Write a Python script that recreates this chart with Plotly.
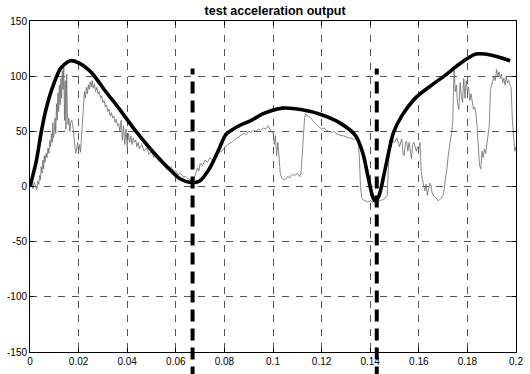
import plotly.graph_objects as go

# ---- data ----
title_text = "test acceleration output"

# measured (thin, noisy) signal
meas_x = [0.0000, 0.0008, 0.0012, 0.0018, 0.0022, 0.0028, 0.0032, 0.0036, 0.0040, 0.0043, 0.0046, 0.0050,
          0.0053, 0.0056, 0.0059, 0.0062, 0.0066, 0.0070, 0.0074, 0.0078, 0.0082, 0.0085, 0.0088, 0.0091,
          0.0094, 0.0097, 0.0100, 0.0103, 0.0106, 0.0109, 0.0112, 0.0115, 0.0118, 0.0121, 0.0124, 0.0127,
          0.0130, 0.0133, 0.0136, 0.0139, 0.0142, 0.0145, 0.0148, 0.0151, 0.0154, 0.0157, 0.0160, 0.0164,
          0.0168, 0.0172, 0.0176, 0.0180, 0.0184, 0.0188, 0.0192, 0.0196, 0.0200, 0.0204, 0.0208, 0.0212,
          0.0216, 0.0220, 0.0224, 0.0228, 0.0232, 0.0236, 0.0240, 0.0244, 0.0248, 0.0252, 0.0256, 0.0260,
          0.0265, 0.0270, 0.0275, 0.0280, 0.0285, 0.0290, 0.0295, 0.0300, 0.0305, 0.0310, 0.0315, 0.0320,
          0.0325, 0.0330, 0.0335, 0.0340, 0.0345, 0.0350, 0.0355, 0.0360, 0.0365, 0.0370, 0.0375, 0.0380,
          0.0385, 0.0390, 0.0395, 0.0400, 0.0405, 0.0410, 0.0415, 0.0420, 0.0425, 0.0430, 0.0435, 0.0440,
          0.0445, 0.0450, 0.0460, 0.0470, 0.0480, 0.0490, 0.0500, 0.0510, 0.0520, 0.0530, 0.0540, 0.0550,
          0.0560, 0.0570, 0.0580, 0.0590, 0.0600, 0.0610, 0.0620, 0.0630, 0.0640, 0.0650, 0.0660, 0.0670,
          0.0680, 0.0690, 0.0695, 0.0700, 0.0710, 0.0720, 0.0730, 0.0740, 0.0750, 0.0760, 0.0770, 0.0780,
          0.0790, 0.0800, 0.0810, 0.0820, 0.0830, 0.0840, 0.0850, 0.0860, 0.0870, 0.0880, 0.0890, 0.0900,
          0.0910, 0.0920, 0.0930, 0.0940, 0.0950, 0.0960, 0.0970, 0.0980, 0.0985, 0.0990, 0.0995, 0.1000,
          0.1005, 0.1010, 0.1015, 0.1020, 0.1025, 0.1030, 0.1035, 0.1040, 0.1050, 0.1060, 0.1070, 0.1080,
          0.1090, 0.1100, 0.1110, 0.1115, 0.1120, 0.1125, 0.1130, 0.1135, 0.1140, 0.1150, 0.1160, 0.1170,
          0.1180, 0.1190, 0.1200, 0.1210, 0.1220, 0.1230, 0.1240, 0.1250, 0.1260, 0.1270, 0.1280, 0.1290,
          0.1300, 0.1310, 0.1320, 0.1330, 0.1340, 0.1350, 0.1355, 0.1360, 0.1365, 0.1370, 0.1380, 0.1390,
          0.1400, 0.1410, 0.1420, 0.1430, 0.1440, 0.1450, 0.1460, 0.1470, 0.1475, 0.1480, 0.1485, 0.1490,
          0.1500, 0.1510, 0.1520, 0.1530, 0.1535, 0.1540, 0.1545, 0.1550, 0.1555, 0.1560, 0.1570, 0.1575,
          0.1580, 0.1590, 0.1595, 0.1600, 0.1605, 0.1610, 0.1615, 0.1620, 0.1625, 0.1630, 0.1635, 0.1640,
          0.1645, 0.1650, 0.1655, 0.1660, 0.1670, 0.1680, 0.1690, 0.1700, 0.1705, 0.1710, 0.1715, 0.1720,
          0.1725, 0.1730, 0.1735, 0.1740, 0.1745, 0.1750, 0.1755, 0.1760, 0.1765, 0.1770, 0.1775, 0.1780,
          0.1785, 0.1790, 0.1795, 0.1800, 0.1805, 0.1810, 0.1815, 0.1820, 0.1825, 0.1830, 0.1835, 0.1840,
          0.1845, 0.1850, 0.1855, 0.1860, 0.1865, 0.1870, 0.1875, 0.1880, 0.1885, 0.1890, 0.1895, 0.1900,
          0.1905, 0.1910, 0.1915, 0.1920, 0.1925, 0.1930, 0.1935, 0.1940, 0.1945, 0.1950, 0.1955, 0.1960,
          0.1965, 0.1970, 0.1975, 0.1980, 0.1985, 0.1990, 0.1995, 0.2000]
meas_y = [0, 3, -2, 4, 1, -3, 5, 2, 10, 6, 18, 12,
          24, 16, 28, 22, 30, 26, 35, 30, 42, 36, 48, 40,
          58, 44, 50, 62, 48, 75, 60, 85, 68, 92, 74, 98,
          80, 105, 88, 108, 60, 96, 52, 102, 64, 56, 62, 50,
          58, 60, 55, 45, 36, 30, 34, 40, 32, 38, 31, 44,
          58, 72, 86, 80, 90, 84, 92, 88, 95, 90, 96, 89,
          93, 86, 90, 84, 86, 80, 82, 76, 78, 72, 74, 68,
          70, 64, 67, 62, 64, 58, 61, 55, 57, 50, 60, 42,
          55, 38, 52, 36, 48, 40, 46, 38, 44, 40, 42, 36,
          40, 34, 38, 32, 35, 29, 32, 26, 28, 23, 25, 20,
          21, 17, 18, 14, 14, 11, 12, 9, 9, 7, 6, 4,
          10, 17, 14, 21, 19, 24, 22, 26, 24, 27, 29, 31,
          32, 35, 37, 39, 40, 42, 44, 45, 47, 48, 47, 50,
          49, 51, 50, 52, 51, 53, 52, 55, 53, 52, 49, 50,
          38, 46, 28, 40, 20, 12, 8, 7, 6, 9, 8, 11,
          10, 12, 9, 12, 28, 45, 62, 66, 64, 63, 61, 58,
          56, 54, 52, 53, 51, 50, 49, 50, 48, 47, 46, 46,
          45, 44, 44, 43, 43, 42, 28, 0, -10, -12, -13, -14,
          -13, -14, -13, -14, -13, -12, -11, -8, 25, 42, 38, 42,
          40, 44, 36, 43, 30, 28, 40, 41, 32, 40, 25, 38,
          40, 32, 36, 34, 40, 14, 6, 1, -4, 2, -8, -2,
          3, 1, -6, -8, -10, -13, -11, -8, -2, 8, 14, 26,
          36, 42, 48, 60, 108, 86, 92, 74, 70, 94, 82, 76,
          98, 80, 96, 86, 90, 78, 84, 74, 70, 72, 66, 54,
          30, 19, 16, 32, 26, 34, 30, 40, 46, 55, 88, 92,
          96, 100, 96, 106, 100, 104, 98, 102, 94, 98, 92, 100,
          94, 96, 92, 90, 60, 44, 32, 36]

# model (thick, smooth) signal
model_x = [0.0, 0.0025, 0.0046, 0.0066, 0.0093, 0.0126, 0.0166, 0.0200, 0.0254, 0.0308, 0.0362,
           0.0429, 0.0496, 0.0563, 0.0617, 0.0665, 0.0698, 0.0738, 0.0778, 0.0806, 0.0860, 0.0911,
           0.0960, 0.1040, 0.1120, 0.1200, 0.1280, 0.1340, 0.1370, 0.1390, 0.1410, 0.1420, 0.1435,
           0.1456, 0.1476, 0.1496, 0.1530, 0.1590, 0.1660, 0.1710, 0.1767, 0.1835, 0.1900, 0.1976]
model_y = [0, 22, 49, 70, 90, 107, 114, 112, 103, 87, 72,
           52, 34, 18, 7, 3.5, 5, 16, 34, 47, 55, 60,
           66, 71, 69.5, 65, 57, 46, 30, 10, -9, -13, -9,
           10, 31, 49, 64, 81, 93, 101, 111, 120, 119, 114]

# event markers (vertical dashed lines)
event_x = [0.0669, 0.1427]
event_top = 107

x_range = [0, 0.2]
y_range = [-150, 150]
x_ticks = [0, 0.02, 0.04, 0.06, 0.08, 0.1, 0.12, 0.14, 0.16, 0.18, 0.2]
x_ticklabels = ["0", "0.02", "0.04", "0.06", "0.08", "0.1", "0.12", "0.14", "0.16", "0.18", "0.2"]
y_ticks = [-150, -100, -50, 0, 50, 100, 150]
y_ticklabels = ["-150", "-100", "-50", "0", "50", "100", "150"]

# ---- figure ----
fig = go.Figure()
fig.add_trace(go.Scatter(x=meas_x, y=meas_y, mode="lines",
                         line=dict(color="#6a6a6a", width=0.8), hoverinfo="skip"))
fig.add_trace(go.Scatter(x=model_x, y=model_y, mode="lines",
                         line=dict(color="black", width=3.6, shape="spline", smoothing=0.8),
                         hoverinfo="skip"))

top_paper = (event_top - y_range[0]) / (y_range[1] - y_range[0])
for ex in event_x:
    fig.add_shape(type="line", xref="x", yref="paper", x0=ex, x1=ex, y0=-0.08, y1=top_paper,
                  line=dict(color="black", width=4, dash="12px,7px"), layer="above")

axis_common = dict(showline=True, linecolor="black", linewidth=1, mirror="ticks",
                   ticks="inside", ticklen=4, tickcolor="black",
                   showgrid=True, gridcolor="#555555", gridwidth=0.8, griddash="7px,7px",
                   zeroline=False,
                   tickfont=dict(family="Liberation Sans, Arial", size=10, color="black"))

fig.update_xaxes(range=x_range, tickvals=x_ticks, ticktext=x_ticklabels, **axis_common)
fig.update_yaxes(range=y_range, tickvals=y_ticks, ticktext=y_ticklabels, **axis_common)

fig.update_layout(
    width=530, height=374,
    margin=dict(l=27, r=7, t=21, b=17),
    paper_bgcolor="white", plot_bgcolor="white",
    showlegend=False,
    title=dict(text="<b>" + title_text + "</b>", x=0.519, xanchor="center", y=0.972, yanchor="middle",
               font=dict(family="Liberation Sans, Arial", size=12.5, color="black")),
)

fig.write_html("out.html")
